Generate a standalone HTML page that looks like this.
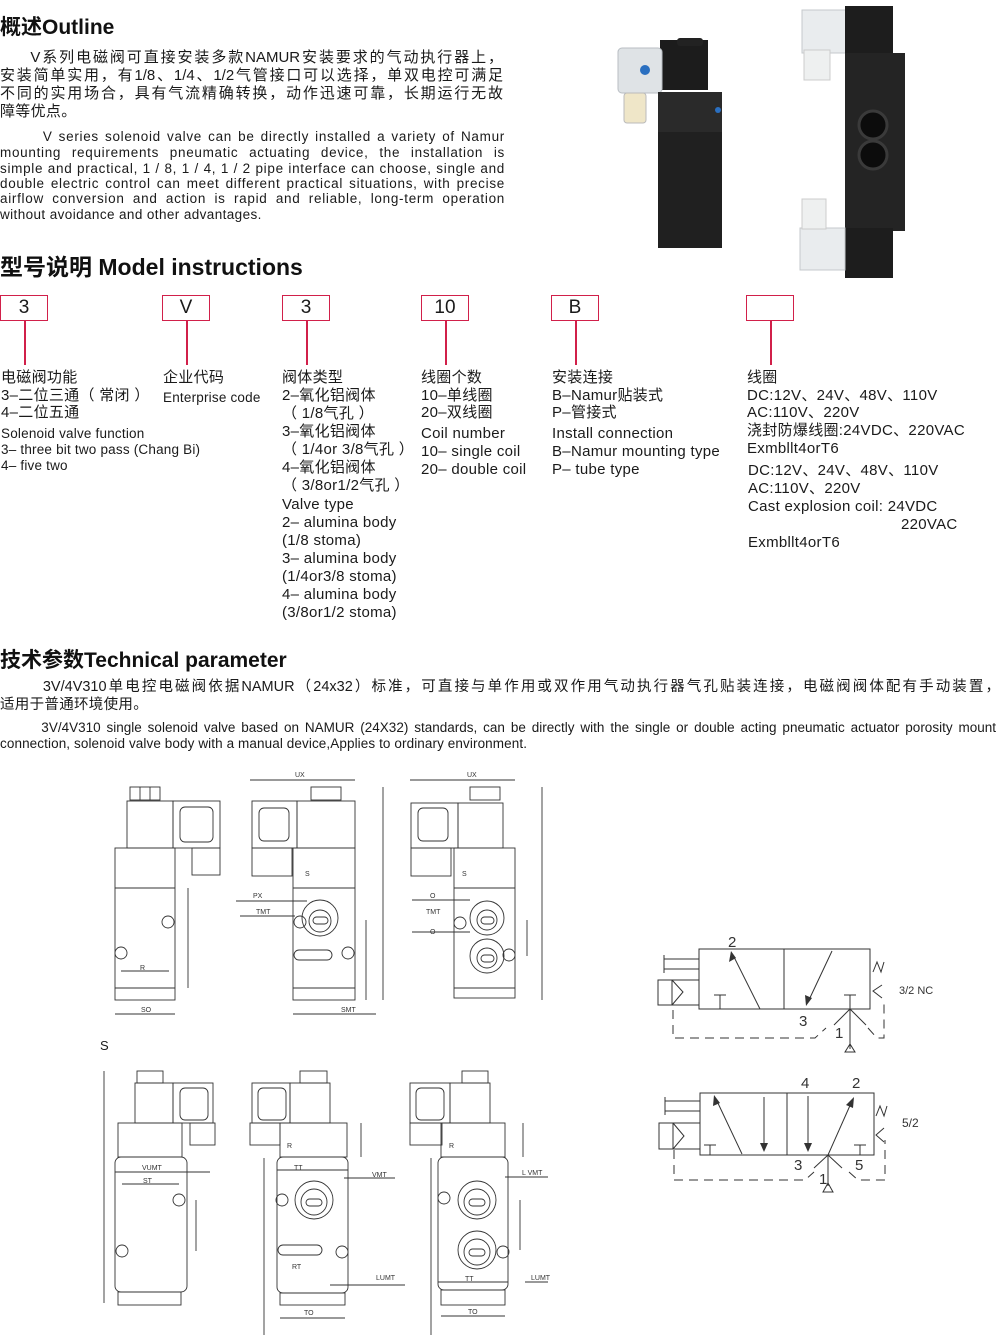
<!DOCTYPE html>
<html><head><meta charset="utf-8"><style>
body{margin:0;background:#fff;}
#p{position:relative;width:1000px;height:1339px;overflow:hidden;background:#fff;font-family:"Liberation Sans","Noto Sans CJK SC",sans-serif;color:#1a1a1a;}
.t{position:absolute;white-space:nowrap;font-size:15px;line-height:18px;letter-spacing:0.3px;}
.s{font-size:13.5px;line-height:16px;letter-spacing:0.2px;}
.h{position:absolute;white-space:nowrap;font-weight:bold;color:#111;}
.j{position:absolute;white-space:nowrap;text-align:justify;text-align-last:justify;}
.js{font-size:13.5px;line-height:16px;letter-spacing:0.7px;}
.b{position:absolute;top:295px;width:46px;height:24px;border:1.5px solid #d1204a;font-size:19px;line-height:24px;text-align:center;}
.v{position:absolute;top:321px;width:1.5px;height:44px;background:#d1204a;}
</style></head><body><div id="p">

<div class="h" style="left:0;top:11px;font-size:21px;">概述Outline</div>
<div class="j" style="left:0;top:49px;width:503px;font-size:15px;line-height:18px;">&nbsp;&nbsp;&nbsp;&nbsp;&nbsp;V系列电磁阀可直接安装多款NAMUR安装要求的气动执行器上，</div>
<div class="j" style="left:0;top:67px;width:503px;font-size:15px;line-height:18px;">安装简单实用，有1/8、1/4、1/2气管接口可以选择，单双电控可满足</div>
<div class="j" style="left:0;top:85px;width:503px;font-size:15px;line-height:18px;">不同的实用场合，具有气流精确转换，动作迅速可靠，长期运行无故</div>
<div class="t" style="left:0;top:103px;">障等优点。</div>
<div class="j js" style="left:0;top:129px;width:505px;">&nbsp;&nbsp;&nbsp;&nbsp;&nbsp;&nbsp;&nbsp;V series solenoid valve can be directly installed a variety of Namur</div>
<div class="j js" style="left:0;top:145px;width:505px;">mounting requirements pneumatic actuating device, the installation is</div>
<div class="j js" style="left:0;top:161px;width:505px;">simple and practical, 1 / 8, 1 / 4, 1 / 2 pipe interface can choose, single and</div>
<div class="j js" style="left:0;top:176px;width:505px;">double electric control can meet different practical situations, with precise</div>
<div class="j js" style="left:0;top:191px;width:505px;">airflow conversion and action is rapid and reliable, long-term operation</div>
<div class="t s" style="left:0;top:207px;letter-spacing:0.4px;">without avoidance and other advantages.</div>

<div class="h" style="left:0;top:248px;font-size:23px;">型号说明 Model instructions</div>

<div class="b" style="left:0">3</div><div class="v" style="left:24px"></div>
<div class="b" style="left:162px">V</div><div class="v" style="left:186px"></div>
<div class="b" style="left:282px">3</div><div class="v" style="left:306px"></div>
<div class="b" style="left:421px">10</div><div class="v" style="left:445px"></div>
<div class="b" style="left:551px">B</div><div class="v" style="left:575px"></div>
<div class="b" style="left:746px"></div><div class="v" style="left:770px"></div>

<div class="t" style="left:1px;top:369px;">电磁阀功能</div>
<div class="t" style="left:1px;top:387px;">3–二位三通（ 常闭 ）</div>
<div class="t" style="left:1px;top:404px;">4–二位五通</div>
<div class="t s" style="left:1px;top:426px;">Solenoid valve function</div>
<div class="t s" style="left:1px;top:442px;">3– three bit two pass (Chang Bi)</div>
<div class="t s" style="left:1px;top:458px;">4– five two</div>

<div class="t" style="left:163px;top:369px;">企业代码</div>
<div class="t s" style="left:163px;top:390px;">Enterprise code</div>

<div class="t" style="left:282px;top:369px;">阀体类型</div>
<div class="t" style="left:282px;top:387px;">2–氧化铝阀体</div>
<div class="t" style="left:282px;top:405px;">（ 1/8气孔 ）</div>
<div class="t" style="left:282px;top:423px;">3–氧化铝阀体</div>
<div class="t" style="left:282px;top:441px;">（ 1/4or 3/8气孔 ）</div>
<div class="t" style="left:282px;top:459px;">4–氧化铝阀体</div>
<div class="t" style="left:282px;top:477px;">（ 3/8or1/2气孔 ）</div>
<div class="t" style="left:282px;top:496px;">Valve type</div>
<div class="t" style="left:282px;top:514px;">2– alumina body</div>
<div class="t" style="left:282px;top:532px;">(1/8 stoma)</div>
<div class="t" style="left:282px;top:550px;">3– alumina body</div>
<div class="t" style="left:282px;top:568px;">(1/4or3/8 stoma)</div>
<div class="t" style="left:282px;top:586px;">4– alumina body</div>
<div class="t" style="left:282px;top:604px;">(3/8or1/2 stoma)</div>

<div class="t" style="left:421px;top:369px;">线圈个数</div>
<div class="t" style="left:421px;top:387px;">10–单线圈</div>
<div class="t" style="left:421px;top:404px;">20–双线圈</div>
<div class="t" style="left:421px;top:425px;">Coil number</div>
<div class="t" style="left:421px;top:443px;">10– single coil</div>
<div class="t" style="left:421px;top:461px;">20– double coil</div>

<div class="t" style="left:552px;top:369px;">安装连接</div>
<div class="t" style="left:552px;top:387px;">B–Namur贴装式</div>
<div class="t" style="left:552px;top:404px;">P–管接式</div>
<div class="t" style="left:552px;top:425px;">Install connection</div>
<div class="t" style="left:552px;top:443px;">B–Namur mounting type</div>
<div class="t" style="left:552px;top:461px;">P– tube type</div>

<div class="t" style="left:747px;top:369px;">线圈</div>
<div class="t" style="left:747px;top:387px;">DC:12V、24V、48V、110V</div>
<div class="t" style="left:747px;top:404px;">AC:110V、220V</div>
<div class="t" style="left:747px;top:422px;">浇封防爆线圈:24VDC、220VAC</div>
<div class="t" style="left:747px;top:440px;">Exmbllt4orT6</div>
<div class="t" style="left:748px;top:462px;">DC:12V、24V、48V、110V</div>
<div class="t" style="left:748px;top:480px;">AC:110V、220V</div>
<div class="t" style="left:748px;top:498px;">Cast explosion coil: 24VDC</div>
<div class="t" style="left:901px;top:516px;">220VAC</div>
<div class="t" style="left:748px;top:534px;">Exmbllt4orT6</div>

<div class="h" style="left:0;top:644px;font-size:21px;">技术参数Technical parameter</div>
<div class="j" style="left:0;top:678px;width:1000px;font-size:14.5px;line-height:18px;">&nbsp;&nbsp;&nbsp;&nbsp;&nbsp;&nbsp;&nbsp;3V/4V310单电控电磁阀依据NAMUR（24x32）标准，可直接与单作用或双作用气动执行器气孔贴装连接，电磁阀阀体配有手动装置，</div>
<div class="t" style="left:0;top:696px;font-size:14.5px;">适用于普通环境使用。</div>
<div class="j" style="left:0;top:720px;width:996px;font-size:13.5px;line-height:16px;">&nbsp;&nbsp;&nbsp;&nbsp;&nbsp;&nbsp;&nbsp;3V/4V310 single solenoid valve based on NAMUR (24X32) standards, can be directly with the single or double acting pneumatic actuator porosity mount</div>
<div class="t s" style="left:0;top:736px;letter-spacing:0.1px;">connection, solenoid valve body with a manual device,Applies to ordinary environment.</div>
<div class="t" style="left:100px;top:1037px;font-size:13px;">S</div>

<svg style="position:absolute;left:0;top:0" width="1000" height="1339" viewBox="0 0 1000 1339" font-family="Liberation Sans, sans-serif">
<g>
<rect x="660" y="40" width="48" height="50" fill="#1c1c1c"/>
<rect x="677" y="38" width="26" height="8" rx="3" fill="#222"/>
<rect x="618" y="48" width="44" height="45" rx="4" fill="#dfe3e6" stroke="#b8bec3"/>
<circle cx="645" cy="70" r="5" fill="#2a6fc0"/>
<rect x="624" y="93" width="22" height="30" rx="3" fill="#efe6c8" stroke="#bbb"/>
<rect x="658" y="92" width="64" height="156" fill="#202020"/>
<rect x="658" y="92" width="64" height="40" fill="#2a2a2a"/>
<circle cx="718" cy="110" r="3" fill="#2a6fc0"/>
<rect x="802" y="10" width="45" height="43" fill="#e9ecee" stroke="#c5c9cc"/>
<rect x="804" y="50" width="26" height="30" fill="#eef0f0" stroke="#ccc"/>
<rect x="845" y="6" width="48" height="47" fill="#1d1d1d"/>
<rect x="845" y="53" width="60" height="178" fill="#242424"/>
<circle cx="873" cy="125" r="14" fill="#0c0c0c" stroke="#3a3a3a" stroke-width="3"/>
<circle cx="873" cy="155" r="14" fill="#0c0c0c" stroke="#3a3a3a" stroke-width="3"/>
<rect x="845" y="228" width="48" height="50" fill="#1d1d1d"/>
<rect x="800" y="228" width="45" height="42" fill="#e9ecee" stroke="#c5c9cc"/>
<rect x="802" y="199" width="24" height="30" fill="#eef0f0" stroke="#ccc"/>
</g>
<g fill="none" stroke="#333" stroke-width="0.9">
<rect x="130" y="787" width="30" height="13"/><line x1="140" y1="787" x2="140" y2="800"/><line x1="150" y1="787" x2="150" y2="800"/>
<rect x="127" y="801" width="46" height="47"/><rect x="173" y="801" width="47" height="47"/>
<rect x="180" y="807" width="33" height="35" rx="5"/>
<rect x="192" y="848" width="28" height="27"/>
<rect x="115" y="848" width="60" height="152"/><line x1="115" y1="888" x2="175" y2="888"/><line x1="115" y1="988" x2="175" y2="988"/>
<circle cx="168" cy="922" r="6"/><circle cx="121" cy="953" r="6"/>
<line x1="115" y1="1014" x2="175" y2="1014"/><line x1="121" y1="971" x2="169" y2="971"/><line x1="188" y1="888" x2="188" y2="988"/>
<line x1="250" y1="780" x2="355" y2="780"/>
<rect x="311" y="787" width="30" height="13"/>
<rect x="252" y="801" width="45" height="47"/><rect x="297" y="801" width="58" height="47"/>
<rect x="259" y="808" width="30" height="33" rx="5"/>
<rect x="252" y="848" width="40" height="28"/>
<rect x="293" y="848" width="62" height="152"/><line x1="293" y1="888" x2="355" y2="888"/><line x1="293" y1="988" x2="355" y2="988"/>
<circle cx="320" cy="918" r="18"/><circle cx="320" cy="921" r="11"/><rect x="313" y="917" width="15" height="7" rx="3.5"/>
<circle cx="300" cy="922" r="6"/><rect x="294" y="950" width="38" height="10" rx="5"/><circle cx="348" cy="953" r="6"/>
<line x1="383" y1="787" x2="383" y2="1000"/><line x1="366" y1="920" x2="366" y2="1000"/>
<line x1="293" y1="1014" x2="330" y2="1014"/><line x1="330" y1="1014" x2="376" y2="1014"/>
<line x1="236" y1="901" x2="307" y2="901"/><line x1="240" y1="916" x2="295" y2="916"/>
<line x1="410" y1="780" x2="515" y2="780"/>
<rect x="470" y="787" width="30" height="13"/>
<rect x="411" y="803" width="47" height="45"/><rect x="458" y="803" width="45" height="45"/>
<rect x="418" y="808" width="30" height="33" rx="5"/>
<rect x="411" y="848" width="40" height="28"/>
<rect x="454" y="848" width="61" height="150"/><line x1="454" y1="888" x2="515" y2="888"/><line x1="454" y1="988" x2="515" y2="988"/>
<circle cx="487" cy="918" r="17"/><circle cx="487" cy="920" r="10"/><rect x="481" y="917" width="13" height="7" rx="3.5"/>
<circle cx="487" cy="956" r="17"/><circle cx="487" cy="958" r="10"/><rect x="481" y="955" width="13" height="7" rx="3.5"/>
<circle cx="460" cy="923" r="6"/><circle cx="509" cy="955" r="6"/>
<line x1="542" y1="787" x2="542" y2="1000"/><line x1="527" y1="920" x2="527" y2="956"/>
<line x1="412" y1="900" x2="470" y2="900"/><line x1="412" y1="932" x2="470" y2="932"/>
<rect x="137" y="1071" width="26" height="12"/>
<rect x="135" y="1083" width="38" height="40"/><rect x="173" y="1083" width="40" height="40"/>
<rect x="180" y="1088" width="28" height="32" rx="5"/>
<rect x="190" y="1123" width="25" height="22"/>
<rect x="118" y="1123" width="64" height="34"/>
<rect x="115" y="1157" width="72" height="135" rx="6"/>
<rect x="118" y="1292" width="63" height="13"/>
<circle cx="179" cy="1200" r="6"/><circle cx="122" cy="1251" r="6"/>
<line x1="104" y1="1071" x2="104" y2="1303"/><line x1="115" y1="1172" x2="210" y2="1172"/><line x1="122" y1="1184" x2="179" y2="1184"/><line x1="196" y1="1200" x2="196" y2="1251"/>
<rect x="300" y="1071" width="27" height="12"/>
<rect x="252" y="1083" width="38" height="40"/><rect x="290" y="1083" width="40" height="40"/>
<rect x="258" y="1088" width="28" height="32" rx="5"/>
<rect x="250" y="1123" width="30" height="22"/>
<rect x="280" y="1123" width="67" height="34"/>
<rect x="277" y="1157" width="71" height="136" rx="6"/>
<rect x="280" y="1293" width="65" height="12"/>
<circle cx="314" cy="1200" r="19"/><circle cx="314" cy="1202" r="13"/><rect x="306" y="1199" width="16" height="7" rx="3.5"/>
<circle cx="282" cy="1200" r="6"/><rect x="278" y="1245" width="44" height="10" rx="5"/><circle cx="342" cy="1252" r="6"/>
<line x1="264" y1="1158" x2="264" y2="1335"/><line x1="361" y1="1123" x2="361" y2="1157"/><line x1="277" y1="1170" x2="348" y2="1170"/>
<line x1="280" y1="1318" x2="345" y2="1318"/><line x1="344" y1="1178" x2="395" y2="1178"/><line x1="330" y1="1285" x2="405" y2="1285"/>
<rect x="462" y="1071" width="26" height="12"/>
<rect x="410" y="1083" width="40" height="40"/><rect x="450" y="1083" width="40" height="40"/>
<rect x="416" y="1088" width="28" height="32" rx="5"/>
<rect x="410" y="1123" width="32" height="22"/>
<rect x="441" y="1123" width="64" height="34"/>
<rect x="438" y="1157" width="70" height="133" rx="6"/>
<rect x="441" y="1290" width="64" height="15"/>
<circle cx="477" cy="1200" r="19"/><circle cx="477" cy="1202" r="13"/><rect x="469" y="1199" width="16" height="7" rx="3.5"/>
<circle cx="477" cy="1250" r="19"/><circle cx="477" cy="1252" r="13"/><rect x="469" y="1249" width="16" height="7" rx="3.5"/>
<circle cx="444" cy="1198" r="6"/><circle cx="503" cy="1252" r="6"/>
<line x1="431" y1="1158" x2="431" y2="1335"/><line x1="523" y1="1123" x2="523" y2="1157"/><line x1="520" y1="1200" x2="520" y2="1250"/>
<line x1="438" y1="1282" x2="508" y2="1282"/><line x1="441" y1="1316" x2="505" y2="1316"/><line x1="505" y1="1177" x2="548" y2="1177"/><line x1="525" y1="1282" x2="548" y2="1282"/>
</g>
<g font-size="7" fill="#333">
<text x="295" y="777">UX</text><text x="467" y="777">UX</text>
<text x="141" y="1012">SO</text><text x="341" y="1012">SMT</text><text x="140" y="970">R</text>
<text x="253" y="898">PX</text><text x="256" y="914">TMT</text><text x="430" y="898">O</text><text x="426" y="914">TMT</text><text x="430" y="934">O</text>
<text x="305" y="876">S</text><text x="462" y="876">S</text>
<text x="142" y="1170">VUMT</text><text x="143" y="1183">ST</text><text x="294" y="1170">TT</text><text x="465" y="1281">TT</text>
<text x="372" y="1177">VMT</text><text x="522" y="1175">L VMT</text><text x="376" y="1280">LUMT</text><text x="531" y="1280">LUMT</text>
<text x="304" y="1315">TO</text><text x="468" y="1314">TO</text><text x="287" y="1148">R</text><text x="449" y="1148">R</text><text x="292" y="1269">RT</text>
</g>
<g fill="none" stroke="#333" stroke-width="1">
<rect x="699" y="949" width="171" height="60"/><line x1="784" y1="949" x2="784" y2="1009"/>
<line x1="664" y1="959" x2="699" y2="959"/><line x1="664" y1="969" x2="699" y2="969"/><line x1="664" y1="955" x2="664" y2="973"/>
<rect x="658" y="980" width="41" height="25"/><polyline points="672,980 683,992 672,1005"/><line x1="672" y1="980" x2="672" y2="1005"/>
<line x1="760" y1="1009" x2="733" y2="955"/><line x1="832" y1="951" x2="808" y2="1002"/>
<line x1="720" y1="995" x2="720" y2="1009"/><line x1="714" y1="995" x2="726" y2="995"/>
<line x1="850" y1="995" x2="850" y2="1049"/><line x1="844" y1="995" x2="856" y2="995"/>
<line x1="850" y1="1009" x2="834" y2="1025"/><line x1="850" y1="1009" x2="866" y2="1025"/>
<polyline points="873,972 877,962 881,972 884,962"/><polyline points="882,985 873,991 882,998"/>
<path d="M673 1010 V1038 H815 L826 1028" stroke-dasharray="9,6"/><path d="M868 1028 L877 1038 H884 V1000" stroke-dasharray="9,6"/>
<polygon points="850,1044 845,1052 855,1052"/>
<rect x="700" y="1093" width="174" height="62"/><line x1="787" y1="1093" x2="787" y2="1155"/>
<line x1="665" y1="1101" x2="700" y2="1101"/><line x1="665" y1="1111" x2="700" y2="1111"/><line x1="665" y1="1097" x2="665" y2="1115"/>
<rect x="659" y="1123" width="41" height="26"/><polyline points="673,1123 684,1136 673,1149"/><line x1="673" y1="1123" x2="673" y2="1149"/>
<line x1="742" y1="1154" x2="716" y2="1099"/><line x1="764" y1="1097" x2="764" y2="1150"/><line x1="808" y1="1096" x2="808" y2="1150"/><line x1="828" y1="1155" x2="852" y2="1101"/>
<line x1="710" y1="1145" x2="710" y2="1155"/><line x1="704" y1="1145" x2="716" y2="1145"/><line x1="860" y1="1145" x2="860" y2="1155"/><line x1="854" y1="1145" x2="866" y2="1145"/>
<line x1="828" y1="1155" x2="828" y2="1186"/><line x1="828" y1="1155" x2="814" y2="1168"/><line x1="828" y1="1155" x2="842" y2="1168"/>
<polyline points="876,1116 880,1106 884,1116 887,1106"/><polyline points="884,1128 876,1135 884,1142"/>
<path d="M674 1150 V1180 H805 L814 1172" stroke-dasharray="9,6"/><path d="M849 1172 L858 1180 H885 V1140" stroke-dasharray="9,6"/>
<polygon points="828,1183 823,1192 833,1192"/>
</g>
<g fill="#333"><polygon points="731,951 729,962 736,958"/><polygon points="806,1006 805,995 812,998"/><polygon points="714,1095 713,1106 720,1103"/><polygon points="764,1152 760,1143 768,1143"/><polygon points="808,1152 804,1143 812,1143"/><polygon points="854,1097 846,1105 853,1108"/></g>
<g font-size="15" fill="#333">
<text x="728" y="947">2</text><text x="799" y="1026">3</text><text x="835" y="1038">1</text>
<text x="801" y="1088">4</text><text x="852" y="1088">2</text><text x="794" y="1170">3</text><text x="855" y="1170">5</text><text x="819" y="1184">1</text>
</g>
<text x="899" y="994" font-size="11" fill="#333">3/2 NC</text><text x="902" y="1127" font-size="12" fill="#333">5/2</text>
</svg>
</div></body></html>
